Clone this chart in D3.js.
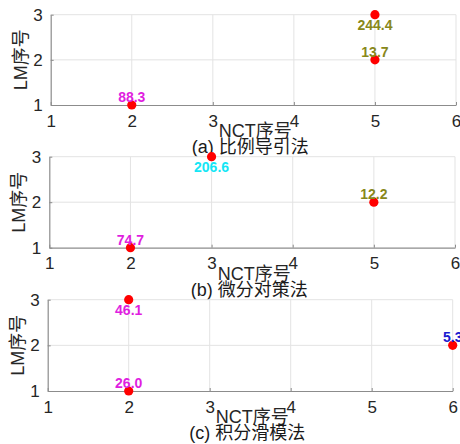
<!DOCTYPE html>
<html>
<head>
<meta charset="utf-8">
<script src="https://cdn.jsdelivr.net/npm/d3@7/dist/d3.min.js"></script>
<style>
  html, body { margin: 0; padding: 0; background: #fff; overflow: hidden; }
  svg { display: block; font-family: "Liberation Sans", Arial, "Noto Sans CJK SC", sans-serif; }
</style>
</head>
<body>
<svg id="chart" width="460" height="444"></svg>
<script>
// ---------- data ----------
const captions = ["(a) 比例导引法", "(b) 微分对策法", "(c) 积分滑模法"];
const xTickValues = [1, 2, 3, 4, 5, 6];
const yTickValues = [1, 2, 3];
const xLabel = "NCT序号";
const yLabel = "LM序号";

const nctA = [2, 5, 5];
const lmA = [1, 2, 3];
const valA = ["88.3", "13.7", "244.4"];

const nctB = [2, 3, 5];
const lmB = [1, 3, 2];
const valB = ["74.7", "206.6", "12.2"];

const nctC = [2, 2, 6];
const lmC = [1, 3, 2];
const valC = ["26.0", "46.1", "5.3"];

// ---------- styles / layout ----------
const nctColor = { 2: "#e01ee0", 3: "#14e6f5", 5: "#88881a", 6: "#1a1ad0" };
const panels = [
  { nct: nctA, lm: lmA, val: valA, left: 50.7, right: 456, top: 14.7, bottom: 105 },
  { nct: nctB, lm: lmB, val: valB, left: 49.3, right: 455, top: 156.7, bottom: 247.7 },
  { nct: nctC, lm: lmC, val: valC, left: 47.7, right: 452.7, top: 299.7, bottom: 391 }
];

const svg = d3.select("#chart");

panels.forEach((p, i) => {
  const x = d3.scaleLinear().domain([1, 6]).range([p.left, p.right]);
  const y = d3.scaleLinear().domain([1, 3]).range([p.bottom, p.top]);
  const g = svg.append("g");

  // grid
  g.append("g").selectAll("line.vx").data(xTickValues.slice(1)).join("line")
    .attr("x1", d => x(d)).attr("x2", d => x(d))
    .attr("y1", p.top).attr("y2", p.bottom)
    .attr("stroke", "#e3e3e3").attr("stroke-width", 1);
  g.append("g").selectAll("line.hy").data(yTickValues.slice(1)).join("line")
    .attr("x1", p.left).attr("x2", p.right)
    .attr("y1", d => y(d)).attr("y2", d => y(d))
    .attr("stroke", "#e3e3e3").attr("stroke-width", 1);

  // axes
  const xAxis = d3.axisBottom(x).tickValues(xTickValues).tickFormat(d3.format("d")).tickSizeInner(-3).tickSizeOuter(0).tickPadding(10);
  const yAxis = d3.axisLeft(y).tickValues(yTickValues).tickFormat(d3.format("d")).tickSizeInner(-3).tickSizeOuter(0).tickPadding(8);
  const gx = g.append("g").attr("transform", `translate(0,${p.bottom})`).call(xAxis);
  const gy = g.append("g").attr("transform", `translate(${p.left},0)`).call(yAxis);
  [gx, gy].forEach(a => {
    a.select(".domain").attr("stroke", "#8c8c8c").attr("stroke-width", 1.2);
    a.selectAll(".tick line").attr("stroke", "#8c8c8c");
    a.selectAll("text").attr("fill", "#262626").style("font-size", "17px")
      .style("font-family", '"Liberation Sans", Arial, sans-serif');
  });
  gx.selectAll("text").attr("dy", "0.68em");

  // axis labels
  g.append("text")
    .attr("x", (p.left + p.right) / 2 + 2).attr("y", p.bottom + 32)
    .attr("text-anchor", "middle").attr("fill", "#262626")
    .style("font-size", "18px").text(xLabel);
  g.append("text")
    .attr("transform", `translate(${p.left - 24},${(p.top + p.bottom) / 2}) rotate(-90)`)
    .attr("text-anchor", "middle").attr("fill", "#262626")
    .style("font-size", "18px").text(yLabel);

  // caption
  g.append("text")
    .attr("x", (p.left + p.right) / 2 - 3).attr("y", p.bottom + 48)
    .attr("text-anchor", "middle").attr("fill", "#1a1a1a")
    .style("font-size", "18px").text(captions[i]);

  // points
  const pts = p.nct.map((n, k) => ({ n, l: p.lm[k], v: p.val[k] }));
  g.append("g").selectAll("circle").data(pts).join("circle")
    .attr("cx", d => x(d.n)).attr("cy", d => y(d.l)).attr("r", 4.6)
    .attr("fill", "#ff0000");

  g.append("g").selectAll("text").data(pts).join("text")
    .attr("x", d => x(d.n)).attr("y", d => y(d.l) + (d.l === 3 ? 15.5 : -3))
    .attr("text-anchor", "middle").attr("fill", d => nctColor[d.n])
    .style("font-size", "14px").style("font-weight", "bold")
    .text(d => d.v);
});
</script>
</body>
</html>
